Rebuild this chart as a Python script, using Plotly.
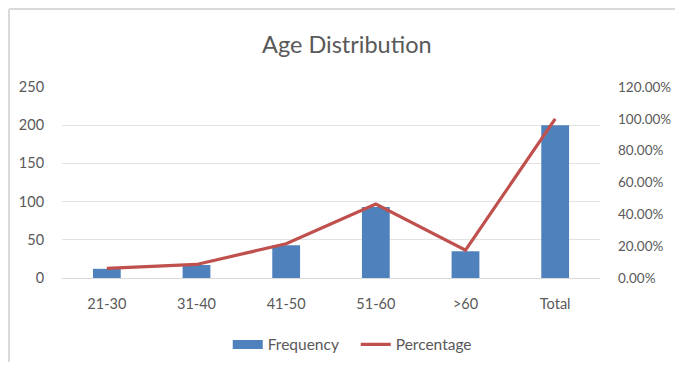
import plotly.graph_objects as go

categories = ["21-30", "31-40", "41-50", "51-60", ">60", "Total"]
frequency = [12, 17, 43, 93, 35, 200]
percentage = [0.06, 0.085, 0.215, 0.465, 0.175, 1.0]
left_ticks = [0, 50, 100, 150, 200, 250]
right_ticks = [0, 0.2, 0.4, 0.6, 0.8, 1.0, 1.2]

FONT = "Lato"
GREY = "#595959"
BLUE = "#4F81BD"
RED = "#C0504D"

fig = go.Figure()
fig.add_trace(go.Bar(
    x=categories, y=frequency, name="Frequency",
    marker=dict(color=BLUE, line=dict(width=0)),
    width=0.31, yaxis="y", showlegend=False,
))
fig.add_trace(go.Scatter(
    x=categories, y=percentage, name="Percentage",
    mode="lines", line=dict(color=RED, width=3.2),
    yaxis="y2", showlegend=False,
))
# legend entries (wide swatches like the original)
fig.add_trace(go.Scatter(
    x=[None], y=[None], name="Frequency", mode="lines",
    line=dict(color=BLUE, width=9), yaxis="y",
))
fig.add_trace(go.Scatter(
    x=[None], y=[None], name="Percentage", mode="lines",
    line=dict(color=RED, width=3.2), yaxis="y2",
))

fig.update_layout(
    width=667, height=354,
    margin=dict(l=54, r=75, t=79, b=84, autoexpand=False),
    paper_bgcolor="white", plot_bgcolor="white",
    font=dict(family=FONT, color=GREY, size=14.5),
    title=dict(text="Age Distribution", x=0.508, xanchor="center",
               y=0.8955, yanchor="middle",
               font=dict(family=FONT, size=23.5, color=GREY)),
    showlegend=True,
    legend=dict(orientation="h", x=0.546, xanchor="center", y=-0.35,
                yanchor="middle", font=dict(size=15.5, color=GREY),
                traceorder="normal", entrywidth=83),
    xaxis=dict(showgrid=False, showline=True, linecolor="#D9D9D9",
               linewidth=1, ticks="outside", ticklen=13,
               tickcolor="rgba(0,0,0,0)", tickfont=dict(size=14.5, color=GREY)),
    yaxis=dict(range=[0, 250], tickvals=left_ticks, showgrid=True,
               gridcolor="#E3E3E3", gridwidth=1, zeroline=False,
               ticks="outside", ticklen=14, tickcolor="rgba(0,0,0,0)",
               tickfont=dict(size=14.5, color=GREY)),
    yaxis2=dict(range=[0, 1.2], tickvals=right_ticks, tickformat=".2%",
                overlaying="y", side="right", showgrid=False, zeroline=False,
                ticks="", ticklabelstandoff=17,
                tickfont=dict(size=13.5, color=GREY)),
    shapes=[
        dict(type="line", xref="paper", yref="paper",
             x0=-0.0985, x1=1.2, y0=1.408, y1=1.408,
             line=dict(color="#DADADA", width=2)),
        dict(type="line", xref="paper", yref="paper",
             x0=-0.0985, x1=-0.0985, y0=1.408, y1=-0.6,
             line=dict(color="#DADADA", width=2)),
    ],
)

fig.write_html("out.html")
